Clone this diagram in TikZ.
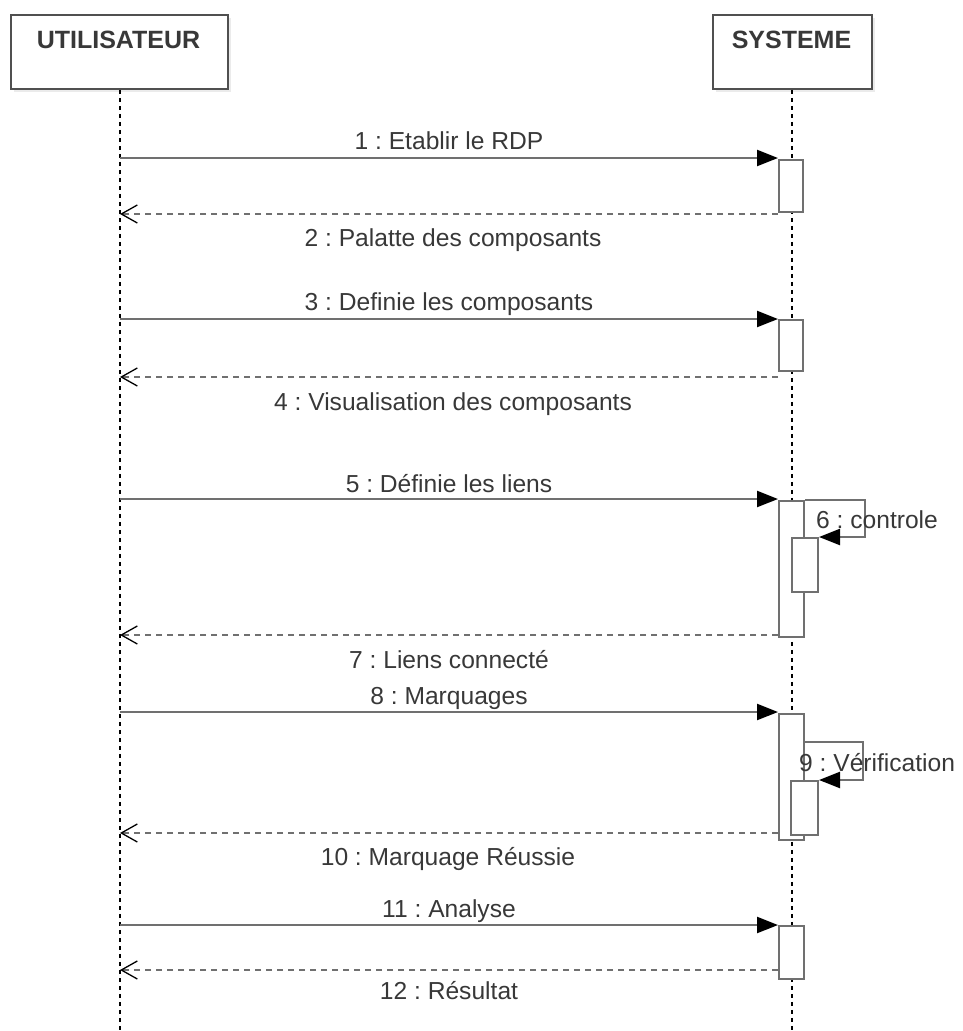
\documentclass[tikz,border=0pt]{standalone}
\usepackage{fontspec}
\setmainfont{Liberation Sans}
\usetikzlibrary{arrows.meta}
\definecolor{linegray}{HTML}{707070}
\definecolor{textgray}{HTML}{383838}
\definecolor{boxgray}{HTML}{505050}
\frenchspacing
\begin{document}
\begin{tikzpicture}[x=1pt,y=-1pt,
  actor/.style={draw=boxgray,line width=1.8pt,fill=white,minimum width=#1,minimum height=74pt,
    inner sep=0pt},
  actorlbl/.style={anchor=base,font=\fontsize{25}{28}\selectfont\bfseries,text=textgray,inner sep=0pt},
  lifeline/.style={black,line width=1.3pt,dash pattern=on 4pt off 4pt},
  activation/.style={draw=linegray,line width=2pt,fill=white,inner sep=0pt,anchor=north west},
  call/.style={linegray,line width=2.3pt,-{Triangle[length=21pt,width=16pt,fill=black,color=black]}},
  reply/.style={linegray,line width=2.3pt,dash pattern=on 6pt off 5pt,
    -{Straight Barb[length=16pt,width=18pt,line width=1.3pt,color=black]}},
  msg/.style={font=\fontsize{24.6}{28}\selectfont,text=textgray,inner sep=0pt,anchor=base}]

\useasboundingbox (0,0) rectangle (963,1031);

% actors with a faint shadow
\fill[black!8] (14,18) rectangle (231,92);
\fill[black!8] (716,18) rectangle (875,92);
\node[actor=217pt,anchor=north west] (user) at (10,14) {};
\node[actor=159pt,anchor=north west] (sys) at (712,14) {};
\node[actorlbl] (userlbl) at (118.5,48) {UTILISATEUR};
\node[actorlbl] (syslbl) at (791.5,48) {SYSTEME};

% lifelines
\coordinate (uend) at (120,1031);
\coordinate (send) at (792,1031);
\draw[lifeline] (user.south -| 120,0) -- (uend);
\draw[lifeline] (sys.south -| 792,0) -- (send);

% activations on the system lifeline
\node[activation,minimum width=24pt,minimum height=52pt] (a1) at (778,159) {};
\node[activation,minimum width=24pt,minimum height=51pt] (a2) at (778,319) {};
\node[activation,minimum width=25pt,minimum height=136pt] (a3) at (778,500) {};
\node[activation,minimum width=26pt,minimum height=54pt] (a3n) at (791,537) {};
\node[activation,minimum width=25pt,minimum height=126pt] (a4) at (778,713) {};
\node[activation,minimum width=27pt,minimum height=54pt] (a4n) at (790,780) {};
\node[activation,minimum width=25pt,minimum height=53pt] (a5) at (778,925) {};

% user-side anchor points of the messages
\coordinate (u1) at (120,158);  \coordinate (u2) at (120,214);
\coordinate (u3) at (120,319);  \coordinate (u4) at (120,377);
\coordinate (u5) at (120,499);  \coordinate (u7) at (120,635);
\coordinate (u8) at (120,712);  \coordinate (u10) at (120,833);
\coordinate (u11) at (120,925); \coordinate (u12) at (120,970);

% messages
\draw[call] (u1) -- (u1 -| a1.west);
\draw[reply] (u2 -| a1.west) -- (u2);
\draw[call] (u3) -- (u3 -| a2.west);
\draw[reply] (u4 -| a2.west) -- (u4);
\draw[call] (u5) -- (u5 -| a3.west);
\draw[reply] (u7 -| a3.west) -- (u7);
\draw[call] (u8) -- (u8 -| a4.west);
\draw[reply] (u10 -| a4.west) -- (u10);
\draw[call] (u11) -- (u11 -| a5.west);
\draw[reply] (u12 -| a5.west) -- (u12);

% self calls
\coordinate (s9) at (803,742);
\draw[call] (a3.north east) -- ++(60,0) |- (a3n.north east);
\draw[call] (s9) -- ++(60,0) |- (a4n.north east);

% labels
\node[msg] (l1) at (449,149) {1 : Etablir le RDP};
\node[msg] (l2) at (453,246) {2 : Palatte des composants};
\node[msg] (l3) at (449,310) {3 : Definie les composants};
\node[msg] (l4) at (453,410) {4 : Visualisation des composants};
\node[msg] (l5) at (449,492) {5 : Définie les liens};
\node[msg,anchor=base west] (l6) at (816,528) {6 : controle};
\node[msg] (l7) at (449,668) {7 : Liens connecté};
\node[msg] (l8) at (449,704) {8 : Marquages};
\node[msg,anchor=base west] (l9) at (799,771) {9 : Vérification};
\node[msg] (l10) at (448,865) {10 : Marquage Réussie};
\node[msg] (l11) at (449,917) {11 : Analyse};
\node[msg] (l12) at (449,999) {12 : Résultat};
\end{tikzpicture}
\end{document}
